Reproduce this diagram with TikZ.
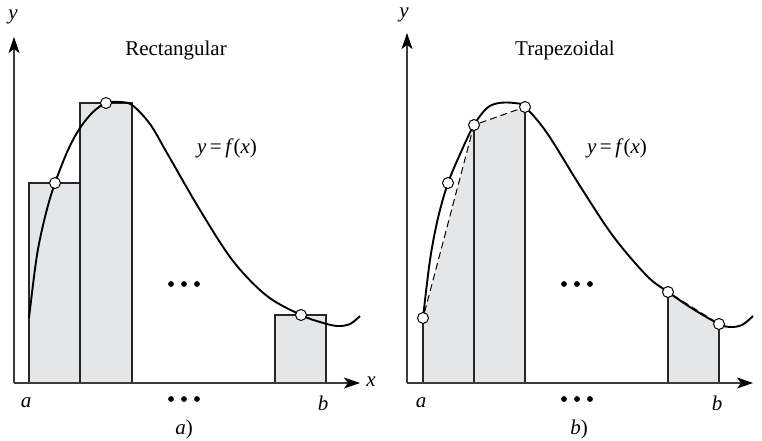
\documentclass[tikz,border=0pt]{standalone}
\usepackage{fontspec}
\setmainfont{Liberation Serif}
\usetikzlibrary{arrows.meta}
\definecolor{fillg}{RGB}{229,230,232}
\definecolor{axisg}{RGB}{60,60,60}
\tikzset{
 axisline/.style={draw=axisg, line width=1.3pt, -{Stealth[length=16pt,width=11pt,inset=4pt,color=black]}},
 bar/.style={fill=fillg, draw=black!85, line width=1.1pt},
 curveline/.style={line width=1.9pt, line join=round},
 pt/.style={circle, draw=black, fill=white, line width=1pt, minimum size=11pt, inner sep=0pt},
 lbl/.style={font=\fontsize{21}{25}\selectfont, inner sep=0pt},
 bigdot/.style={circle, fill=black, minimum size=5.8pt, inner sep=0pt},
 chord/.style={dash pattern=on 7pt off 4pt, line width=1pt}
}
\begin{document}
\begin{tikzpicture}[x=1pt,y=-1pt]
\useasboundingbox (0,0) rectangle (762,440);
% ---------------- panel a ----------------
\coordinate (Oa) at (14,383);
\coordinate (Ya) at (14,37);
\coordinate (Xa) at (360,383);
\draw[bar] (29,383) rectangle (80,183);
\draw[bar] (80,383) rectangle (132,103);
\draw[bar] (275,383) rectangle (326,315);
\draw[axisline] (Oa) -- (Ya);
\draw[axisline] (Oa) -- (Xa);
\draw[curveline] plot[smooth, tension=0.55] coordinates {
 (29,318) (37,255) (46,213) (55,183) (68,150) (80,128) (93,112) (106,103) (119,102) (132,105)
 (150,124) (167,153) (200,210) (233,261) (267,296) (301,315) (320,322) (337,326) (350,324) (360,316)};
\node[pt] (pa1) at (55,183) {};
\node[pt] (pa2) at (106,103) {};
\node[pt] (pa3) at (301,315) {};
\node[lbl] (ya) at (13,17) {\textit{y}};
\node[lbl] (xa) at (371,382) {\textit{x}};
\node[lbl] (ta) at (176,50) {Rectangular};
\node[lbl] (fa) at (227,148) {\textit{y}\,=\,\textit{f}(\textit{x})};
\node[lbl] (aa) at (26,403) {\textit{a}};
\node[lbl] (ba) at (323,403) {\textit{b}};
\node[lbl] (capa) at (184,429) {\textit{a})};
\node[bigdot] (da1) at (171,284) {};
\node[bigdot] (da2) at (184,284) {};
\node[bigdot] (da3) at (197,284) {};
\node[bigdot] (ea1) at (171,399) {};
\node[bigdot] (ea2) at (184,399) {};
\node[bigdot] (ea3) at (197,399) {};
% ---------------- panel b ----------------
\coordinate (Ob) at (407,383);
\coordinate (Yb) at (407,33);
\coordinate (Xb) at (753,383);
\fill[fillg] (423,383) -- (423,318) -- (474,125) -- (525,107) -- (525,383) -- cycle;
\fill[fillg] (668,383) -- (668,292) -- (680,299) -- (693,308) -- (706,317) -- (719,324) -- (719,383) -- cycle;
\draw[black!85, line width=1.1pt] (423,383) -- (423,318);
\draw[black!85, line width=1.1pt] (474,383) -- (474,125);
\draw[black!85, line width=1.1pt] (525,383) -- (525,107);
\draw[black!85, line width=1.1pt] (668,383) -- (668,292);
\draw[black!85, line width=1.1pt] (719,383) -- (719,324);
\draw[axisline] (Ob) -- (Yb);
\draw[axisline] (Ob) -- (Xb);
\draw[curveline] plot[smooth, tension=0.55] coordinates {
 (423,318) (430,260) (438,218) (448,183) (461,152) (474,125) (487,108) (499,103) (514,103) (525,107)
 (547,133) (580,186) (613,236) (647,276) (668,292) (693,309) (719,324) (730,327) (742,325) (753,316)};
\node[pt] (pb1) at (423,318) {};
\node[pt] (pb2) at (448,183) {};
\node[pt] (pb3) at (474,125) {};
\node[pt] (pb4) at (525,107) {};
\node[pt] (pb5) at (668,292) {};
\node[pt] (pb6) at (719,324) {};
\draw[chord] (pb1) -- (pb3);
\draw[chord] (pb3) -- (pb4);
\draw[chord] (pb5) -- (pb6);
\node[lbl] (yb) at (404,15) {\textit{y}};
\node[lbl] (xb) at (767,382) {\textit{x}};
\node[lbl] (tb) at (565,50) {Trapezoidal};
\node[lbl] (fb) at (617,148) {\textit{y}\,=\,\textit{f}(\textit{x})};
\node[lbl] (ab) at (421,403) {\textit{a}};
\node[lbl] (bb) at (717,403) {\textit{b}};
\node[lbl] (capb) at (579,429) {\textit{b})};
\node[bigdot] (db1) at (564,284) {};
\node[bigdot] (db2) at (577,284) {};
\node[bigdot] (db3) at (590,284) {};
\node[bigdot] (eb1) at (564,399) {};
\node[bigdot] (eb2) at (577,399) {};
\node[bigdot] (eb3) at (590,399) {};
\end{tikzpicture}
\end{document}
